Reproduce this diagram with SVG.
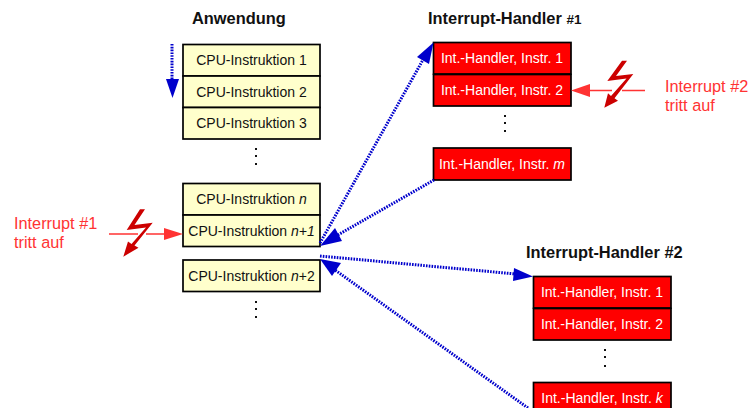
<svg xmlns="http://www.w3.org/2000/svg" width="751" height="408" viewBox="0 0 751 408">
<style>
text{font-family:"Liberation Sans",Arial,sans-serif;font-size:14px}
.y rect{fill:#ffffcc;stroke:#000;stroke-width:1.7}
.r rect{fill:#ff0000;stroke:#000;stroke-width:1.7}
.y text{fill:#111;text-anchor:middle}
.r text{fill:#fff;text-anchor:middle}
.h{font-weight:bold;font-size:16.4px;fill:#111}
.i{fill:#ff3333;font-size:16.3px}
.d{stroke:#0000cc;stroke-width:3;stroke-dasharray:1.6 1.2;fill:none}
.a{fill:#0000cc}
.p{stroke:#ff3333;stroke-width:1.4;fill:none}
.pa{fill:#ff3333}
.b{fill:#cc0000}
.v{fill:#111}
</style>
<text class="h" x="192" y="24">Anwendung</text>
<text class="h" x="428" y="24">Interrupt-Handler <tspan font-size="13.5">#1</tspan></text>
<text class="h" x="526" y="258">Interrupt-Handler #2</text>

<g id="app-1" class="y"><rect x="183" y="44.5" width="137" height="31.5"/><text x="251.500" y="65">CPU-Instruktion 1</text></g>
<g id="app-2" class="y"><rect x="183" y="76" width="137" height="31.500"/><text x="251.500" y="96.500">CPU-Instruktion 2</text></g>
<g id="app-3" class="y"><rect x="183" y="107.500" width="137" height="31.500"/><text x="251.500" y="128">CPU-Instruktion 3</text></g>
<g id="app-n" class="y"><rect x="183" y="183.500" width="137" height="31.500"/><text x="251.500" y="204">CPU-Instruktion <tspan font-style="italic">n</tspan></text></g>
<g id="app-n1" class="y"><rect x="183" y="215" width="137" height="31.500"/><text x="251.500" y="236">CPU-Instruktion <tspan font-style="italic">n+1</tspan></text></g>
<g id="app-n2" class="y"><rect x="183" y="260" width="137" height="31.500"/><text x="251.500" y="280.500">CPU-Instruktion <tspan font-style="italic">n</tspan>+2</text></g>

<g id="h1-1" class="r"><rect x="433.500" y="42.500" width="137.500" height="31.500"/><text x="502" y="63">Int.-Handler, Instr. 1</text></g>
<g id="h1-2" class="r"><rect x="433.500" y="74.500" width="137.500" height="31.500"/><text x="502" y="95">Int.-Handler, Instr. 2</text></g>
<g id="h1-m" class="r"><rect x="433.500" y="148" width="137.500" height="32"/><text x="502" y="169">Int.-Handler, Instr. <tspan font-style="italic">m</tspan></text></g>
<g id="h2-1" class="r"><rect x="533.500" y="276.500" width="137.500" height="31.500"/><text x="602" y="297">Int.-Handler, Instr. 1</text></g>
<g id="h2-2" class="r"><rect x="533.500" y="308.500" width="137.500" height="31.500"/><text x="602" y="329">Int.-Handler, Instr. 2</text></g>
<g id="h2-k" class="r"><rect x="533.500" y="382.500" width="137.500" height="32"/><text x="602" y="403">Int.-Handler, Instr. <tspan font-style="italic">k</tspan></text></g>

<g id="ellipses">
<rect class="v" x="255" y="148" width="2" height="2"/><rect class="v" x="255" y="155" width="2" height="2"/><rect class="v" x="255" y="163" width="2" height="2"/>
<rect class="v" x="255" y="301" width="2" height="2"/><rect class="v" x="255" y="308" width="2" height="2"/><rect class="v" x="255" y="316" width="2" height="2"/>
<rect class="v" x="504" y="115" width="2" height="2"/><rect class="v" x="504" y="122" width="2" height="2"/><rect class="v" x="504" y="130" width="2" height="2"/>
<rect class="v" x="604" y="349" width="2" height="2"/><rect class="v" x="604" y="356" width="2" height="2"/><rect class="v" x="604" y="365" width="2" height="2"/>
</g>

<g id="connectors">
<path class="d" d="M172 44V80"/><polygon class="a" points="166,79 179,79 172.500,98"/>
<path class="d" d="M320 243L424 58"/><polygon class="a" points="417,57 429,64 433.500,42.500"/>
<path class="d" d="M434 180L336 236"/><polygon class="a" points="320,246 335,228 342,241"/>
<path class="d" d="M320 256L516 274"/><polygon class="a" points="514,268 513,281 533,276.500"/>
<path class="d" d="M528 408L335 270"/><polygon class="a" points="320,259 341,263 332,276"/>
<path class="p" d="M109 234H138M146 234H166"/><polygon class="pa" points="164,228 164,240 183,234"/>
<path class="p" d="M645 90.500H622M612 90.500H590"/><polygon class="pa" points="590,84 590,97 571,90.500"/>
</g>

<g id="interrupt-1">
<polygon class="b" points="140,209.300 145,209.300 134.500,225 152.700,222.700 134.500,245.500 138.500,247.800 123.300,256.700 128,241.500 131.500,244 146,227.500 126.700,230"/>
<text class="i" x="14" y="229">Interrupt #1</text>
<text class="i" x="14" y="248">tritt auf</text>
</g>
<g id="interrupt-2">
<polygon class="b" points="622,60.700 627,60.700 616,76 633.300,74 614.500,98.300 618,100.700 604.300,107.700 608,93.300 611,96 626.500,78.500 607.300,81"/>
<text class="i" x="665" y="92">Interrupt #2</text>
<text class="i" x="665" y="111">tritt auf</text>
</g>
</svg>
